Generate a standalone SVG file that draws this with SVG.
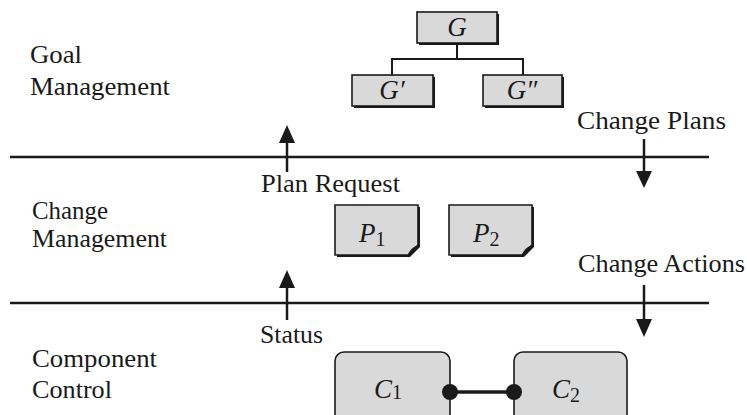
<svg xmlns="http://www.w3.org/2000/svg" width="747" height="415" viewBox="0 0 747 415">
<style>
.lbl{font-family:"Liberation Serif",serif;font-size:25px;fill:#1a1a1a}
.it{font-family:"Liberation Serif",serif;font-style:italic;font-size:27px;fill:#1a1a1a}
.sub{font-family:"Liberation Serif",serif;font-style:normal;font-size:20px;fill:#1a1a1a}
.box{fill:#d9d9d9;stroke:#1a1a1a;stroke-width:1.6}
.shadow{fill:#1a1a1a}
.ln{stroke:#1a1a1a;stroke-width:2.5;fill:none}
.thin{stroke:#1a1a1a;stroke-width:2;fill:none}
.head{fill:#1a1a1a}
</style>
<rect width="747" height="415" fill="#ffffff"/>
<g id="layer-labels">
<text class="lbl" x="30" y="63" textLength="52" lengthAdjust="spacingAndGlyphs">Goal</text>
<text class="lbl" x="30" y="95" textLength="140" lengthAdjust="spacingAndGlyphs">Management</text>
<text class="lbl" x="32" y="219" textLength="76" lengthAdjust="spacingAndGlyphs">Change</text>
<text class="lbl" x="32" y="247" textLength="135" lengthAdjust="spacingAndGlyphs">Management</text>
<text class="lbl" x="32" y="367" textLength="125" lengthAdjust="spacingAndGlyphs">Component</text>
<text class="lbl" x="32" y="398" textLength="80" lengthAdjust="spacingAndGlyphs">Control</text>
</g>
<g id="flow-labels">
<text class="lbl" x="261" y="192" textLength="139" lengthAdjust="spacingAndGlyphs">Plan Request</text>
<text class="lbl" x="577" y="129" textLength="149" lengthAdjust="spacingAndGlyphs">Change Plans</text>
<text class="lbl" x="578" y="272" textLength="167" lengthAdjust="spacingAndGlyphs">Change Actions</text>
<text class="lbl" x="260" y="343" textLength="63" lengthAdjust="spacingAndGlyphs">Status</text>
</g>
<g id="node-G">
<rect class="shadow" x="419" y="14" width="80" height="31"/>
<rect class="box" x="417" y="12" width="80" height="31"/>
<text class="it" x="457" y="36" text-anchor="middle">G</text>
</g>
<g id="node-G1">
<rect class="shadow" x="354" y="77" width="81" height="31"/>
<rect class="box" x="352" y="75" width="81" height="31"/>
<text class="it" x="392" y="99" text-anchor="middle">G′</text>
</g>
<g id="node-G2">
<rect class="shadow" x="485" y="77" width="79" height="31"/>
<rect class="box" x="483" y="75" width="79" height="31"/>
<text class="it" x="522" y="99" text-anchor="middle">G″</text>
</g>
<g id="node-P1">
<path class="shadow" d="M337,207 H420 V247 L410,257 H337 Z"/>
<path class="box" d="M335,205 H418 V245 L408,255 H335 Z"/>
<path class="head" d="M408,255 Q410,248 418,245 Q413,253 408,255 Z"/>
<text class="it" x="359" y="242">P<tspan class="sub" dy="4">1</tspan></text>
</g>
<g id="node-P2">
<path class="shadow" d="M451,207 H534 V247 L524,257 H451 Z"/>
<path class="box" d="M449,205 H532 V245 L522,255 H449 Z"/>
<path class="head" d="M522,255 Q524,248 532,245 Q527,253 522,255 Z"/>
<text class="it" x="473" y="242">P<tspan class="sub" dy="4">2</tspan></text>
</g>
<g id="node-C1">
<rect class="box" x="335" y="352" width="115" height="75" rx="9"/>
<text class="it" x="374" y="398">C<tspan class="sub" dy="1">1</tspan></text>
</g>
<g id="node-C2">
<rect class="box" x="514" y="352" width="113" height="75" rx="9"/>
<text class="it" x="552" y="398">C<tspan class="sub" dy="4">2</tspan></text>
</g>
<g id="connectors">
<line class="ln" x1="10" y1="157" x2="709" y2="157"/>
<line class="ln" x1="10" y1="303" x2="709" y2="303"/>
<path class="thin" d="M457,43 V59 M392,59 H523 M392,58 V75 M523,58 V75"/>
<line class="ln" x1="287" y1="172" x2="287" y2="140"/>
<polygon class="head" points="279,143 295,143 287,125"/>
<line class="ln" x1="644" y1="139" x2="644" y2="174"/>
<polygon class="head" points="636,171 652,171 644,188"/>
<line class="ln" x1="287" y1="320" x2="287" y2="285"/>
<polygon class="head" points="279,288 295,288 287,270"/>
<line class="ln" x1="644" y1="285" x2="644" y2="321"/>
<polygon class="head" points="636,319 652,319 644,337"/>
<line x1="450" y1="392" x2="514" y2="392" stroke="#1a1a1a" stroke-width="3.5"/>
<circle cx="450" cy="392" r="8" fill="#1a1a1a"/>
<circle cx="514" cy="392" r="8" fill="#1a1a1a"/>
</g>
</svg>
